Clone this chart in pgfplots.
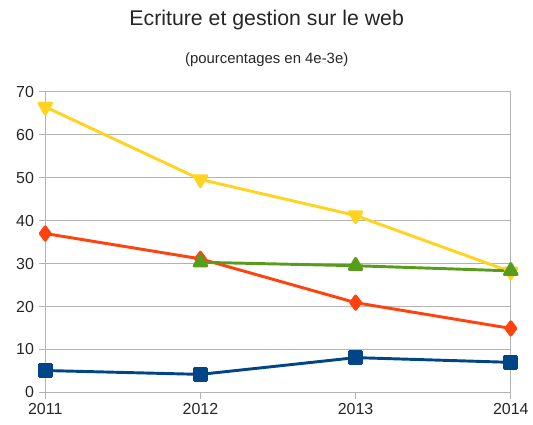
\documentclass[border=0pt]{standalone}
\usepackage{pgfplots}
\pgfplotsset{compat=1.18}
\usepackage{fontspec}
\setmainfont{Liberation Sans}
\definecolor{lblue}{HTML}{004586}
\definecolor{lorange}{HTML}{FF420E}
\definecolor{lyellow}{HTML}{FFD320}
\definecolor{lgreen}{HTML}{579D1C}
\definecolor{gridc}{HTML}{B3B3B3}
\begin{document}
\begin{tikzpicture}
\begin{axis}[
  scale only axis,
  width=350pt, height=226pt,
  xmin=2011, xmax=2014, ymin=0, ymax=70,
  xtick={2011,2012,2013,2014},
  ytick={0,10,...,70},
  xticklabel style={/pgf/number format/1000 sep={}},
  /pgf/number format/assume math mode=true,
  ticklabel style={font=\fontsize{12}{14}\selectfont, text=black!85},
  ymajorgrids=true,
  grid style={gridc, line width=0.8pt},
  axis line style={gridc, line width=0.8pt},
  axis x line*=bottom, axis y line*=left,
  tick align=outside,
  major tick length=5pt,
  tick style={gridc, line width=0.8pt},
  clip=false,
  every axis plot/.append style={line width=2.2pt, line join=round},
]
\draw[gridc, line width=0.8pt] (axis cs:2014,0) -- (axis cs:2014,70);
\addplot[lblue, mark=square*, mark size=4.6pt, mark options={solid}] coordinates {(2011,5.1) (2012,4.2) (2013,8.1) (2014,7.0)};
\addplot[lorange, mark=diamond*, mark size=5pt] coordinates {(2011,37.0) (2012,31.1) (2013,20.9) (2014,14.9)};
\addplot[lyellow, mark=triangle*, mark size=5.5pt, mark options={rotate=180}] coordinates {(2011,66.5) (2012,49.6) (2013,41.2) (2014,28.1)};
\addplot[lgreen, mark=triangle*, mark size=5.5pt] coordinates {(2012,30.3) (2013,29.5) (2014,28.3)};
\end{axis}
\path (current axis.south west) ++(-34pt,-24pt) coordinate (bl);
\path (current axis.north east) ++(16pt,69pt) coordinate (tr);
\path[use as bounding box] (bl) rectangle (tr);
\node[font=\fontsize{16}{19}\selectfont, text=black!85] at ([xshift=166.5pt, yshift=54pt]current axis.north west) {Ecriture et gestion sur le web};
\node[font=\fontsize{11.2}{13}\selectfont, text=black!85] at ([xshift=166.5pt, yshift=24pt]current axis.north west) {(pourcentages en 4e-3e)};
\end{tikzpicture}
\end{document}
